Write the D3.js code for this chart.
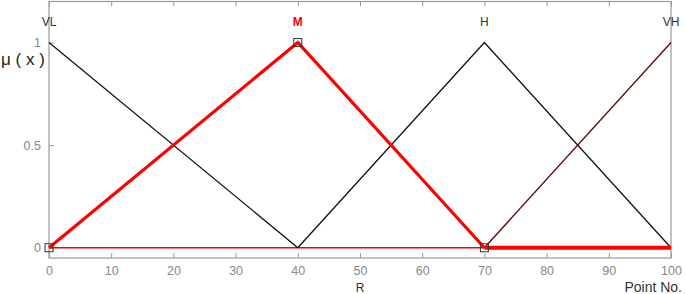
<!DOCTYPE html>
<html>
<head>
<meta charset="utf-8">
<script src="https://cdn.jsdelivr.net/npm/d3@7"></script>
<style>
  body { margin: 0; background: #fff; }
  svg { display: block; font-family: "Liberation Sans", Arial, sans-serif; }
</style>
</head>
<body>
<div id="chart"></div>
<script>
// membership functions (x = point no., y = mu)
const vlPts = [[0, 1], [40, 0]];
const mPts = [[0, 0], [40, 1], [70, 0]];
const mTail = [[70, 0], [100, 0]];
const hPts = [[40, 0], [70, 1], [100, 0]];
const vhPts = [[70, 0], [100, 1]];
const baseline = [[0, 0], [70, 0]];
const mMarkers = [[0, 0], [40, 1], [70, 0]];
const setLabels = [
  { name: "VL", x: 0, color: "#333" },
  { name: "M", x: 40, color: "#f00" },
  { name: "H", x: 70, color: "#333" },
  { name: "VH", x: 100, color: "#333" }
];
const xTicks = [0, 10, 20, 30, 40, 50, 60, 70, 80, 90, 100];
const yTicks = [0, 0.5, 1];

const width = 685, height = 294;
const mLeft = 49, mRight = 671, mTop = 1.5, mBottom = 258;

const x = d3.scaleLinear().domain([0, 100]).range([mLeft, mRight]);
const y = d3.scaleLinear().domain([-0.05, 1.2]).range([mBottom, mTop]);

const svg = d3.select("#chart").append("svg")
  .attr("width", width).attr("height", height);

const gray = "#999";

// box
svg.append("rect")
  .attr("x", mLeft).attr("y", mTop)
  .attr("width", mRight - mLeft).attr("height", mBottom - mTop)
  .attr("fill", "none").attr("stroke", gray).attr("stroke-width", 1.2);

// bottom axis
svg.append("g")
  .attr("transform", `translate(0,${mBottom})`)
  .call(d3.axisBottom(x).tickValues(xTicks).tickSize(-5).tickPadding(8).tickFormat(d3.format("d")))
  .call(g => g.select(".domain").remove())
  .call(g => g.selectAll("line").attr("stroke", gray))
  .call(g => g.selectAll("text").attr("fill", "#888").attr("font-size", 12.5));

// top ticks (mirror)
svg.append("g")
  .attr("transform", `translate(0,${mTop})`)
  .call(d3.axisTop(x).tickValues(xTicks).tickSize(-5).tickFormat(""))
  .call(g => g.select(".domain").remove())
  .call(g => g.selectAll("line").attr("stroke", gray));

// left axis
svg.append("g")
  .attr("transform", `translate(${mLeft},0)`)
  .call(d3.axisLeft(y).tickValues(yTicks).tickSize(-5).tickPadding(8).tickFormat(d => d === 0.5 ? "0.5" : d3.format("d")(d)))
  .call(g => g.select(".domain").remove())
  .call(g => g.selectAll("line").attr("stroke", gray))
  .call(g => g.selectAll("text").attr("fill", "#888").attr("font-size", 12.5));

const line = d3.line().x(d => x(d[0])).y(d => y(d[1]));

svg.append("path").datum(baseline).attr("d", line)
  .attr("fill", "none").attr("stroke", "#f00").attr("stroke-width", 1.5);
svg.append("path").datum(vlPts).attr("d", line)
  .attr("fill", "none").attr("stroke", "#111").attr("stroke-width", 1.3);
svg.append("path").datum(hPts).attr("d", line)
  .attr("fill", "none").attr("stroke", "#111").attr("stroke-width", 1.3);
svg.append("path").datum(vhPts).attr("d", line)
  .attr("fill", "none").attr("stroke", "#5a1010").attr("stroke-width", 1.4);
svg.append("path").datum(mPts).attr("d", line)
  .attr("fill", "none").attr("stroke", "#f00").attr("stroke-width", 3.2);
svg.append("path").datum(mTail).attr("d", line)
  .attr("fill", "none").attr("stroke", "#f00").attr("stroke-width", 4);

svg.append("g").selectAll("rect").data(mMarkers).join("rect")
  .attr("x", d => x(d[0]) - 4).attr("y", d => y(d[1]) - 4)
  .attr("width", 8).attr("height", 8)
  .attr("fill", "none").attr("stroke", "#333").attr("stroke-width", 1);

// set labels
svg.append("g").selectAll("text").data(setLabels).join("text")
  .attr("x", d => x(d.x)).attr("y", y(1.1) + 4)
  .attr("text-anchor", "middle")
  .attr("font-size", 12)
  .attr("fill", d => d.color)
  .attr("font-weight", d => d.name === "M" ? "bold" : "normal")
  .text(d => d.name);

// axis titles
svg.append("text")
  .attr("x", x(50)).attr("y", 292)
  .attr("text-anchor", "middle").attr("font-size", 12).attr("fill", "#333")
  .text("R");
svg.append("text")
  .attr("x", 682).attr("y", 292)
  .attr("text-anchor", "end").attr("font-size", 14).attr("fill", "#333")
  .text("Point No.");
svg.append("text")
  .attr("x", 1).attr("y", 65)
  .attr("font-size", 17).attr("fill", "#222")
  .text("μ ( x )");
</script>
</body>
</html>
